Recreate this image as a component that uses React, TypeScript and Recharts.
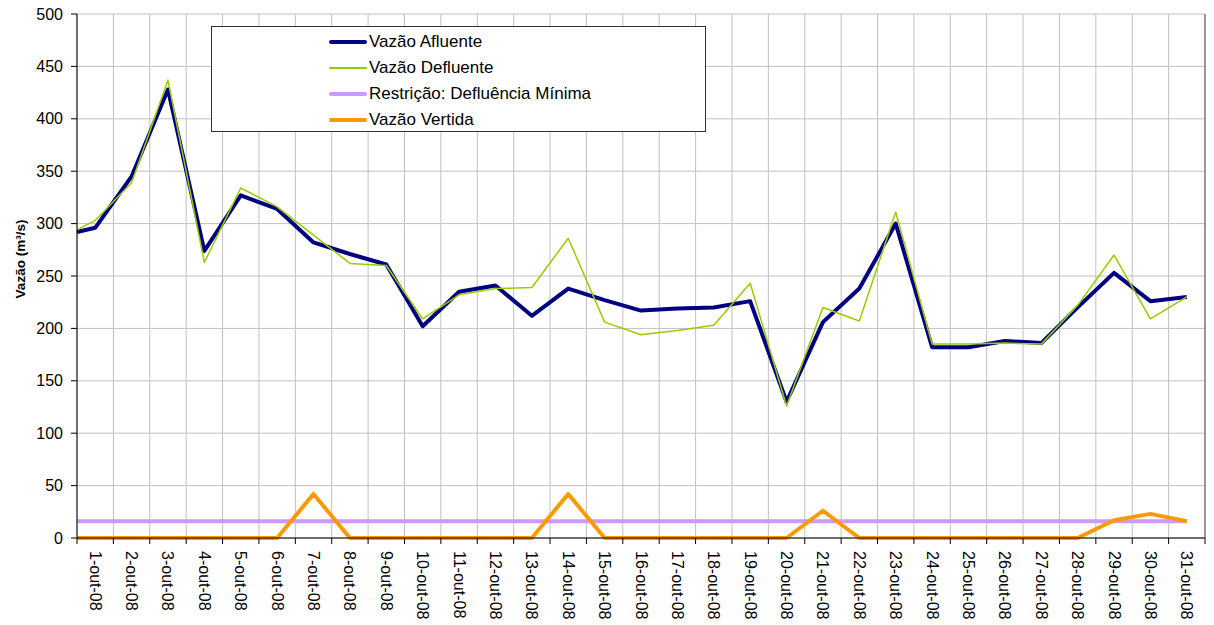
import { LineChart, Line, XAxis, YAxis, CartesianGrid, Legend, ReferenceLine } from "recharts";

const FONT = "'Liberation Sans', Arial, sans-serif";

// rótulos do eixo X (um por dia)
const dias = [
  "1-out-08", "2-out-08", "3-out-08", "4-out-08", "5-out-08", "6-out-08", "7-out-08",
  "8-out-08", "9-out-08", "10-out-08", "11-out-08", "12-out-08", "13-out-08", "14-out-08",
  "15-out-08", "16-out-08", "17-out-08", "18-out-08", "19-out-08", "20-out-08", "21-out-08",
  "22-out-08", "23-out-08", "24-out-08", "25-out-08", "26-out-08", "27-out-08", "28-out-08",
  "29-out-08", "30-out-08", "31-out-08",
];

// valores diários (m³/s)
const afluente = [
  296, 345, 428, 274, 327, 314, 282, 271, 261, 202, 235, 241, 212, 238, 227, 217,
  219, 220, 226, 130, 206, 238, 300, 182, 182, 188, 186, 220, 253, 226, 230,
];
const defluente = [
  303, 339, 437, 263, 334, 316, 289, 262, 260, 209, 232, 238, 239, 286, 206, 194,
  198, 203, 243, 126, 220, 207, 311, 185, 185, 186, 185, 222, 270, 209, 230,
];
const restricao = [
  16, 16, 16, 16, 16, 16, 16, 16, 16, 16, 16, 16, 16, 16, 16, 16,
  16, 16, 16, 16, 16, 16, 16, 16, 16, 16, 16, 16, 16, 16, 16,
];
const vertida = [
  0, 0, 0, 0, 0, 0, 42, 0, 0, 0, 0, 0, 0, 42, 0, 0,
  0, 0, 0, 0, 26, 0, 0, 0, 0, 0, 0, 0, 17, 23, 16,
];

// ponto inicial, na borda esquerda do gráfico
const afluenteInicial = 292;
const defluenteInicial = 294;
const restricaoInicial = 16;
const vertidaInicial = 0;

const yTicks = [0, 50, 100, 150, 200, 250, 300, 350, 400, 450, 500];

const series = [
  { key: "afluente", name: "Vazão Afluente", color: "#000080", width: 4 },
  { key: "defluente", name: "Vazão Defluente", color: "#99cc00", width: 1.5 },
  { key: "restricao", name: "Restrição: Defluência Mínima", color: "#cc99ff", width: 4 },
  { key: "vertida", name: "Vazão Vertida", color: "#ff9900", width: 4 },
];

const data = [
  { x: 0, afluente: afluenteInicial, defluente: defluenteInicial, restricao: restricaoInicial, vertida: vertidaInicial },
  ...dias.map((d, i) => ({
    x: i + 0.5,
    dia: d,
    afluente: afluente[i],
    defluente: defluente[i],
    restricao: restricao[i],
    vertida: vertida[i],
  })),
];

const W = 1214;
const H = 625;
const MARGIN = { top: 14, right: 9, bottom: 0, left: 0 };
const Y_AXIS_W = 77;
const X_AXIS_H = 87;
const PLOT_W = W - MARGIN.left - MARGIN.right - Y_AXIS_W;
const HALF_BAND = PLOT_W / dias.length / 2;
const xTicks = Array.from({ length: dias.length + 1 }, (_, i) => i);

function DayTick(props: any) {
  const { x, y, payload } = props;
  const label = dias[payload.value];
  if (!label) return null;
  const cx = x + HALF_BAND;
  return (
    <text
      transform={`translate(${cx},${y}) rotate(90)`}
      textAnchor="start"
      dominantBaseline="central"
      fontSize={16}
      fontFamily={FONT}
      fill="#000"
    >
      {label}
    </text>
  );
}

function LegendBox() {
  return (
    <div
      style={{
        boxSizing: "border-box",
        width: "100%",
        height: "100%",
        border: "1px solid #333",
        background: "#fff",
        paddingTop: 2,
        paddingLeft: 117,
        fontFamily: FONT,
        fontSize: 17,
        color: "#000",
      }}
    >
      {series.map((s) => (
        <div key={s.key} style={{ height: 26, display: "flex", alignItems: "center" }}>
          <div
            style={{
              width: 38,
              height: s.width,
              background: s.color,
              borderRadius: s.width / 2,
              marginRight: 2,
            }}
          />
          <span>{s.name}</span>
        </div>
      ))}
    </div>
  );
}

export default function App() {
  return (
    <div style={{ position: "absolute", left: 0, top: 0, width: W, height: H, background: "#fff" }}>
      <LineChart width={W} height={H} data={data} margin={MARGIN}>
        <CartesianGrid stroke="#c0c0c0" strokeWidth={1} />
        <XAxis
          dataKey="x"
          type="number"
          domain={[0, dias.length]}
          ticks={xTicks}
          interval={0}
          height={X_AXIS_H}
          tickSize={6}
          tickMargin={7}
          tick={<DayTick />}
          stroke="#000"
          tickLine={{ stroke: "#000" }}
          axisLine={{ stroke: "#000" }}
        />
        <YAxis
          type="number"
          domain={[0, 500]}
          ticks={yTicks}
          interval={0}
          width={Y_AXIS_W}
          tickSize={6}
          tickMargin={8}
          tick={{ fontSize: 16, fill: "#000", fontFamily: FONT }}
          tickLine={{ stroke: "#000" }}
          axisLine={{ stroke: "#000" }}
          label={{
            content: () => (
              <text
                x={20}
                y={259}
                transform="rotate(-90,20,259)"
                textAnchor="middle"
                dominantBaseline="central"
                fontSize={13.5}
                fontWeight="bold"
                fontFamily={FONT}
                fill="#000"
              >
                Vazão (m³/s)
              </text>
            ),
          }}
        />
        <ReferenceLine x={dias.length} stroke="#808080" strokeWidth={1.5} />
        {series.map((s) => (
          <Line
            key={s.key}
            type="linear"
            dataKey={s.key}
            name={s.name}
            stroke={s.color}
            strokeWidth={s.width}
            strokeLinejoin="round"
            dot={false}
            activeDot={false}
            isAnimationActive={false}
          />
        ))}
        <Legend
          layout="vertical"
          verticalAlign="middle"
          align="center"
          content={<LegendBox />}
          wrapperStyle={{ left: 211, top: 26, width: 495, height: 106 }}
        />
      </LineChart>
    </div>
  );
}
